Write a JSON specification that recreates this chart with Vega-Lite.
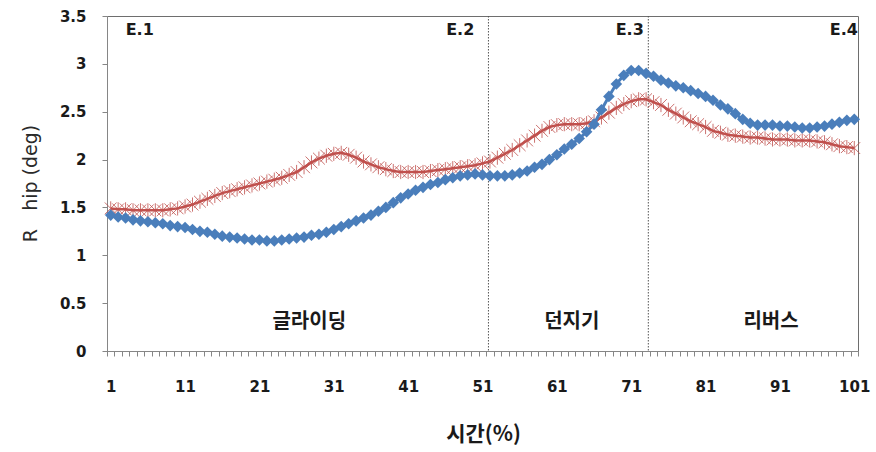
{
  "$schema": "https://vega.github.io/schema/vega-lite/v6.json",
  "width": 751,
  "height": 335,
  "autosize": {"type": "none"},
  "padding": {"left": 107, "top": 16, "right": 18, "bottom": 101},
  "background": "white",
  "config": {
    "view": {"stroke": "#6e6e6e", "strokeWidth": 1},
    "axis": {"grid": false}
  },
  "datasets": {
    "series": [
      {"t":1,"blue":1.42,"red":1.49},{"t":2,"blue":1.40,"red":1.48},{"t":3,"blue":1.39,"red":1.48},{"t":4,"blue":1.37,"red":1.47},{"t":5,"blue":1.36,"red":1.47},
      {"t":6,"blue":1.35,"red":1.47},{"t":7,"blue":1.34,"red":1.47},{"t":8,"blue":1.33,"red":1.47},{"t":9,"blue":1.31,"red":1.48},{"t":10,"blue":1.30,"red":1.49},
      {"t":11,"blue":1.29,"red":1.51},{"t":12,"blue":1.27,"red":1.53},{"t":13,"blue":1.25,"red":1.56},{"t":14,"blue":1.24,"red":1.59},{"t":15,"blue":1.22,"red":1.62},
      {"t":16,"blue":1.20,"red":1.65},{"t":17,"blue":1.19,"red":1.67},{"t":18,"blue":1.18,"red":1.69},{"t":19,"blue":1.17,"red":1.71},{"t":20,"blue":1.16,"red":1.73},
      {"t":21,"blue":1.16,"red":1.75},{"t":22,"blue":1.15,"red":1.77},{"t":23,"blue":1.15,"red":1.79},{"t":24,"blue":1.16,"red":1.81},{"t":25,"blue":1.17,"red":1.84},
      {"t":26,"blue":1.18,"red":1.87},{"t":27,"blue":1.19,"red":1.92},{"t":28,"blue":1.21,"red":1.97},{"t":29,"blue":1.22,"red":2.01},{"t":30,"blue":1.24,"red":2.04},
      {"t":31,"blue":1.27,"red":2.06},{"t":32,"blue":1.30,"red":2.07},{"t":33,"blue":1.33,"red":2.05},{"t":34,"blue":1.36,"red":2.02},{"t":35,"blue":1.39,"red":1.98},
      {"t":36,"blue":1.42,"red":1.95},{"t":37,"blue":1.46,"red":1.92},{"t":38,"blue":1.50,"red":1.90},{"t":39,"blue":1.55,"red":1.88},{"t":40,"blue":1.60,"red":1.87},
      {"t":41,"blue":1.64,"red":1.87},{"t":42,"blue":1.68,"red":1.87},{"t":43,"blue":1.71,"red":1.87},{"t":44,"blue":1.74,"red":1.88},{"t":45,"blue":1.76,"red":1.89},
      {"t":46,"blue":1.79,"red":1.90},{"t":47,"blue":1.81,"red":1.91},{"t":48,"blue":1.83,"red":1.92},{"t":49,"blue":1.84,"red":1.93},{"t":50,"blue":1.85,"red":1.94},
      {"t":51,"blue":1.84,"red":1.96},{"t":52,"blue":1.83,"red":1.98},{"t":53,"blue":1.83,"red":2.02},{"t":54,"blue":1.83,"red":2.06},{"t":55,"blue":1.84,"red":2.10},
      {"t":56,"blue":1.86,"red":2.15},{"t":57,"blue":1.88,"red":2.20},{"t":58,"blue":1.92,"red":2.25},{"t":59,"blue":1.95,"red":2.30},{"t":60,"blue":2.00,"red":2.34},
      {"t":61,"blue":2.05,"red":2.36},{"t":62,"blue":2.11,"red":2.37},{"t":63,"blue":2.16,"red":2.37},{"t":64,"blue":2.22,"red":2.37},{"t":65,"blue":2.29,"red":2.38},
      {"t":66,"blue":2.37,"red":2.40},{"t":67,"blue":2.52,"red":2.44},{"t":68,"blue":2.66,"red":2.49},{"t":69,"blue":2.79,"red":2.54},{"t":70,"blue":2.88,"red":2.58},
      {"t":71,"blue":2.93,"red":2.61},{"t":72,"blue":2.93,"red":2.63},{"t":73,"blue":2.90,"red":2.63},{"t":74,"blue":2.87,"red":2.60},{"t":75,"blue":2.83,"red":2.57},
      {"t":76,"blue":2.80,"red":2.52},{"t":77,"blue":2.77,"red":2.48},{"t":78,"blue":2.75,"red":2.44},{"t":79,"blue":2.72,"red":2.40},{"t":80,"blue":2.69,"red":2.37},
      {"t":81,"blue":2.66,"red":2.34},{"t":82,"blue":2.62,"red":2.30},{"t":83,"blue":2.57,"red":2.28},{"t":84,"blue":2.53,"red":2.26},{"t":85,"blue":2.48,"red":2.25},
      {"t":86,"blue":2.42,"red":2.24},{"t":87,"blue":2.38,"red":2.23},{"t":88,"blue":2.36,"red":2.23},{"t":89,"blue":2.36,"red":2.22},{"t":90,"blue":2.36,"red":2.21},
      {"t":91,"blue":2.35,"red":2.21},{"t":92,"blue":2.35,"red":2.21},{"t":93,"blue":2.34,"red":2.20},{"t":94,"blue":2.33,"red":2.20},{"t":95,"blue":2.33,"red":2.20},
      {"t":96,"blue":2.34,"red":2.19},{"t":97,"blue":2.35,"red":2.18},{"t":98,"blue":2.37,"red":2.16},{"t":99,"blue":2.39,"red":2.14},{"t":100,"blue":2.41,"red":2.13},
      {"t":101,"blue":2.42,"red":2.12}
    ],
    "phases": [{"t":51.8},{"t":73.3}],
    "events": [
      {"t":4.9,"v":3.35,"label":"E.1"},
      {"t":48.0,"v":3.35,"label":"E.2"},
      {"t":70.8,"v":3.35,"label":"E.3"},
      {"t":99.6,"v":3.35,"label":"E.4"}
    ],
    "stages": [
      {"t":27.7,"v":0.3,"label":"글라이딩"},
      {"t":63.0,"v":0.3,"label":"던지기"},
      {"t":89.8,"v":0.3,"label":"리버스"}
    ]
  },
  "encoding": {
    "x": {"field": "t", "type": "quantitative", "scale": {"domain": [0.5, 101.5], "nice": false, "zero": false},
      "axis": {
        "values": [0.5,1.5,2.5,3.5,4.5,5.5,6.5,7.5,8.5,9.5,10.5,11.5,12.5,13.5,14.5,15.5,16.5,17.5,18.5,19.5,20.5,21.5,22.5,23.5,24.5,25.5,26.5,27.5,28.5,29.5,30.5,31.5,32.5,33.5,34.5,35.5,36.5,37.5,38.5,39.5,40.5,41.5,42.5,43.5,44.5,45.5,46.5,47.5,48.5,49.5,50.5,51.5,52.5,53.5,54.5,55.5,56.5,57.5,58.5,59.5,60.5,61.5,62.5,63.5,64.5,65.5,66.5,67.5,68.5,69.5,70.5,71.5,72.5,73.5,74.5,75.5,76.5,77.5,78.5,79.5,80.5,81.5,82.5,83.5,84.5,85.5,86.5,87.5,88.5,89.5,90.5,91.5,92.5,93.5,94.5,95.5,96.5,97.5,98.5,99.5,100.5,101.5],
        "labelExpr": "(datum.value - 0.5) % 10 == 0 && datum.value < 101 ? format(datum.value + 0.5, 'd') : ''",
        "labelOffset": 3.7,
        "labelOverlap": false,
        "labelFlush": false,
        "labelBound": false,
        "tickCount": 102,
        "labelFont": "DejaVu Sans",
        "labelFontWeight": "bold",
        "labelFontSize": 15,
        "labelColor": "#1a1a1a",
        "labelPadding": 23,
        "tickSize": 5,
        "tickColor": "#868686",
        "domainColor": "#868686",
        "title": "시간(%)",
        "titleFont": "Noto Sans CJK KR",
        "titleFontWeight": "bold",
        "titleFontSize": 21,
        "titleColor": "#1a1a1a",
        "titleX": 376,
        "titleY": 83,
        "titleBaseline": "middle",
        "titleAlign": "center"
      }
    }
  },
  "layer": [
    {
      "data": {"name": "phases"},
      "mark": {"type": "rule", "color": "#555555", "strokeWidth": 1, "strokeDash": [1.5, 1.5]},
      "encoding": {}
    },
    {
      "data": {"name": "series"},
      "mark": {"type": "line", "color": "#c0504d", "strokeWidth": 2.5},
      "encoding": {
        "y": {"field": "red", "type": "quantitative", "scale": {"domain": [0, 3.5], "nice": false},
          "axis": {
            "values": [0, 0.5, 1, 1.5, 2, 2.5, 3, 3.5],
            "format": ".1~f",
            "labelFont": "DejaVu Sans",
            "labelFontWeight": "bold",
            "labelFontSize": 15,
            "labelColor": "#1a1a1a",
            "labelPadding": 16,
            "tickSize": 5,
            "tickColor": "#868686",
            "domainColor": "#868686",
            "title": "R\u00a0\u00a0\u00a0hip (deg)",
            "titleFont": "DejaVu Sans",
            "titleFontWeight": "normal",
            "titleFontSize": 19,
            "titleColor": "#2a2a2a",
            "titleX": -77,
            "titleY": 167,
            "titleAngle": -90,
            "titleAlign": "center",
            "titleBaseline": "middle"
          }
        }
      }
    },
    {
      "data": {"name": "series"},
      "mark": {"type": "point", "shape": "M-1,-1L1,1M1,-1L-1,1M0,-1.2L0,1.2", "filled": false, "stroke": "#c0504d", "strokeWidth": 1, "opacity": 0.8, "size": 140},
      "encoding": {
        "y": {"field": "red", "type": "quantitative"}
      }
    },
    {
      "data": {"name": "series"},
      "mark": {"type": "line", "color": "#4a7ebb", "strokeWidth": 3},
      "encoding": {
        "y": {"field": "blue", "type": "quantitative"}
      }
    },
    {
      "data": {"name": "series"},
      "mark": {"type": "point", "shape": "diamond", "filled": true, "color": "#4a7ebb", "opacity": 1, "size": 135},
      "encoding": {
        "y": {"field": "blue", "type": "quantitative"}
      }
    },
    {
      "data": {"name": "events"},
      "mark": {"type": "text", "font": "DejaVu Sans", "fontWeight": "bold", "fontSize": 16, "color": "#1a1a1a", "align": "center", "baseline": "middle"},
      "encoding": {
        "y": {"field": "v", "type": "quantitative"},
        "text": {"field": "label"}
      }
    },
    {
      "data": {"name": "stages"},
      "mark": {"type": "text", "font": "Noto Sans CJK KR", "fontWeight": "bold", "fontSize": 20, "color": "#1a1a1a", "align": "center", "baseline": "middle"},
      "encoding": {
        "y": {"field": "v", "type": "quantitative"},
        "text": {"field": "label"}
      }
    }
  ]
}
